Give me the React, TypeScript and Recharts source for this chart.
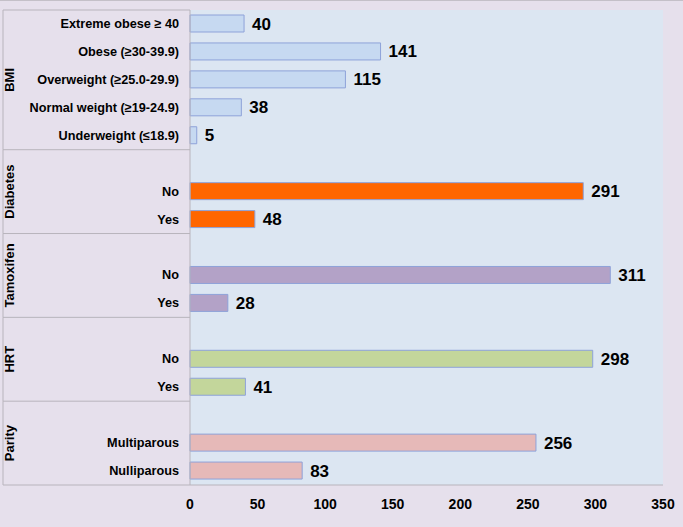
import React from 'react';
import { BarChart, Bar, XAxis, YAxis, CartesianGrid, Cell, LabelList } from 'recharts';

// groups, in order from top to bottom
const groups = ['BMI', 'Diabetes', 'Tamoxifen', 'HRT', 'Parity'];

const bmiLabels = ['Extreme obese ≥ 40', 'Obese (≥30-39.9)', 'Overweight (≥25.0-29.9)', 'Normal weight (≥19-24.9)', 'Underweight (≤18.9)'];
const bmiValues = [40, 141, 115, 38, 5];

const diabetesLabels = ['No', 'Yes'];
const diabetesValues = [291, 48];

const tamoxifenLabels = ['No', 'Yes'];
const tamoxifenValues = [311, 28];

const hrtLabels = ['No', 'Yes'];
const hrtValues = [298, 41];

const parityLabels = ['Multiparous', 'Nulliparous'];
const parityValues = [256, 83];

const xTicks = [0, 50, 100, 150, 200, 250, 300, 350];

const groupLabels = [bmiLabels, diabetesLabels, tamoxifenLabels, hrtLabels, parityLabels];
const groupValues = [bmiValues, diabetesValues, tamoxifenValues, hrtValues, parityValues];

const groupColors: Record<string, string> = {
  BMI: '#c6d9f1',
  Diabetes: '#ff6600',
  Tamoxifen: '#b3a2c7',
  HRT: '#c3d69b',
  Parity: '#e6b9b8',
};

// groups with only two answers get an empty spacer row on top (as in the original sheet)
type Row = { id: string; group: string; label: string; value: number | null; first: boolean; last: boolean; size: number };
const rows: Row[] = [];
groups.forEach((g, gi) => {
  const labels = groupLabels[gi];
  const values = groupValues[gi];
  const spacer = labels.length < 3;
  const size = labels.length + (spacer ? 1 : 0);
  if (spacer) rows.push({ id: `${g}-pad`, group: g, label: '', value: null, first: true, last: false, size });
  labels.forEach((l, i) => {
    rows.push({
      id: `${g}-${i}`,
      group: g,
      label: l,
      value: values[i],
      first: !spacer && i === 0,
      last: gi === groups.length - 1 && i === labels.length - 1,
      size,
    });
  });
});

const PANEL_LEFT = 3;
const TICK_GAP = 11;
const BORDER = '#b8b4bc';
const FONT = 'Liberation Sans, Arial, sans-serif';

function CategoryTick(props: any) {
  const { x, y, payload } = props;
  const row = rows.find((r) => r.id === payload.value);
  if (!row) return null;
  const half = payload.offset || 14;
  const top = y - half;
  const right = x + TICK_GAP;
  const mid = top + row.size * half;
  return (
    <g>
      <text x={x} y={y} textAnchor="end" dominantBaseline="central" fontSize={12.7} fontWeight="bold" fill="#000" fontFamily={FONT}>
        {row.label}
      </text>
      {row.first && (
        <>
          <line x1={PANEL_LEFT} x2={right} y1={top} y2={top} stroke={BORDER} />
          <line x1={PANEL_LEFT} x2={PANEL_LEFT} y1={top} y2={top + row.size * half * 2} stroke={BORDER} />
          <text
            x={10}
            y={mid}
            transform={`rotate(-90, 10, ${mid})`}
            textAnchor="middle"
            dominantBaseline="central"
            fontSize={13}
            fontWeight="bold"
            fill="#000"
            fontFamily={FONT}
          >
            {row.group}
          </text>
        </>
      )}
      {row.last && <line x1={PANEL_LEFT} x2={right} y1={y + half} y2={y + half} stroke={BORDER} />}
    </g>
  );
}

export default function App() {
  return (
    <div
      style={{
        position: 'absolute',
        left: 0,
        top: 0,
        width: 683,
        height: 527,
        background: '#e6e0ec',
        borderTop: '1px solid #c4c0c8',
      }}
    >
      <BarChart
        width={683}
        height={526}
        data={rows}
        layout="vertical"
        margin={{ top: 9, right: 20, bottom: 7, left: PANEL_LEFT }}
      >
        <CartesianGrid horizontal={false} vertical={false} fill="#dce6f2" stroke="none" />
        <XAxis
          type="number"
          domain={[0, 350]}
          ticks={xTicks}
          interval={0}
          axisLine={{ stroke: BORDER }}
          tickLine={false}
          tickMargin={8}
          height={35}
          tick={{ fontSize: 14, fontWeight: 'bold', fill: '#000', fontFamily: FONT }}
        />
        <YAxis
          type="category"
          dataKey="id"
          width={187}
          interval={0}
          tickSize={0}
          tickMargin={TICK_GAP}
          axisLine={{ stroke: BORDER }}
          tickLine={false}
          tick={<CategoryTick />}
        />
        <Bar dataKey="value" barSize={17} stroke="#8ea2d9" strokeWidth={1} isAnimationActive={false}>
          {rows.map((r) => (
            <Cell key={r.id} fill={groupColors[r.group]} />
          ))}
          <LabelList
            dataKey="value"
            position="right"
            offset={8}
            formatter={(v: any) => (v == null ? '' : v)}
            style={{ fontSize: 17, fontWeight: 'bold', fill: '#000', fontFamily: FONT }}
          />
        </Bar>
      </BarChart>
    </div>
  );
}
